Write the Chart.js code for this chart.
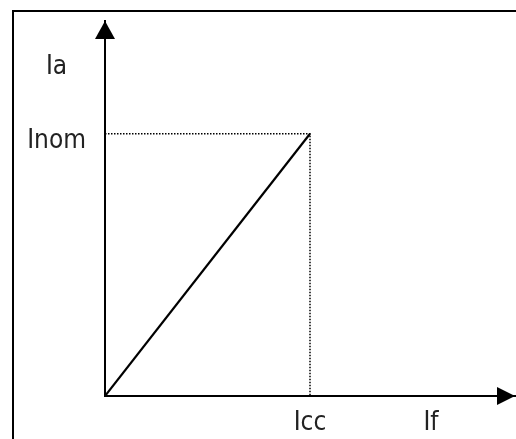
<!DOCTYPE html>
<html>
<head>
<meta charset="utf-8">
<script src="https://cdn.jsdelivr.net/npm/chart.js@4"></script>
<style>
  html, body { margin: 0; padding: 0; background: #fff; }
  #wrap { position: relative; width: 516px; height: 439px; overflow: hidden; }
  #frame { position: absolute; left: 12px; top: 10px; width: 600px; height: 500px;
           border-left: 2px solid #000; border-top: 2px solid #000; box-sizing: border-box; }
  #chart { position: absolute; left: 0; top: 0; }
</style>
</head>
<body>
<div id="wrap">
  <div id="frame"></div>
  <canvas id="chart" width="516" height="439"></canvas>
</div>
<script>
// ── Datos ────────────────────────────────────────────────────────
const xTickValues = [1, 1.59];
const xTickLabels = ["Icc", "If"];
const yTickValues = [1, 1.28];
const yTickLabels = ["Inom", "Ia"];

const lineX  = [0, 1];
const lineY  = [0, 1];
const guideX = [0, 1, 1];
const guideY = [1, 1, 0];

const X_MAX = 2;
const Y_MAX = 1.43;

const FONT = { family: "'Liberation Sans Narrow', 'DejaVu Sans Condensed', sans-serif", size: 26 };

// ── Flechas en los ejes ──────────────────────────────────────────
const arrowPlugin = {
  id: "arrows",
  afterDraw(chart) {
    const { ctx, chartArea: a } = chart;
    ctx.save();
    ctx.fillStyle = "#000";
    // eje Y
    ctx.beginPath();
    ctx.moveTo(a.left, a.top);
    ctx.lineTo(a.left - 10, a.top + 18);
    ctx.lineTo(a.left + 10, a.top + 18);
    ctx.closePath();
    ctx.fill();
    // eje X
    ctx.beginPath();
    ctx.moveTo(a.right, a.bottom);
    ctx.lineTo(a.right - 18, a.bottom - 9);
    ctx.lineTo(a.right - 18, a.bottom + 9);
    ctx.closePath();
    ctx.fill();
    ctx.restore();
  }
};

new Chart(document.getElementById("chart"), {
  type: "scatter",
  data: {
    datasets: [
      {
        data: guideX.map((x, i) => ({ x, y: guideY[i] })),
        showLine: true, borderColor: "#000", borderWidth: 1.5,
        borderDash: [1.5, 1.5], pointRadius: 0, fill: false,
      },
      {
        data: lineX.map((x, i) => ({ x, y: lineY[i] })),
        showLine: true, borderColor: "#000", borderWidth: 2.2,
        pointRadius: 0, fill: false,
      },
    ]
  },
  plugins: [arrowPlugin],
  options: {
    responsive: false,
    animation: false,
    layout: { padding: { top: 21, right: 1, left: 0, bottom: 0 } },
    plugins: { legend: { display: false }, tooltip: { enabled: false } },
    scales: {
      x: {
        type: "linear", min: 0, max: X_MAX,
        afterBuildTicks: s => { s.ticks = xTickValues.map(v => ({ value: v })); },
        afterFit: s => { s.height = 43; s.paddingLeft = 0; s.paddingRight = 0; },
        grid: { display: false, drawTicks: false },
        border: { display: true, color: "#000", width: 2 },
        ticks: {
          autoSkip: false, maxRotation: 0, padding: 12,
          color: "#222", font: FONT,
          callback: (v, i) => xTickLabels[i],
        }
      },
      y: {
        type: "linear", min: 0, max: Y_MAX,
        afterBuildTicks: s => { s.ticks = yTickValues.map(v => ({ value: v })); },
        afterFit: s => { s.width = 105; s.paddingTop = 0; s.paddingBottom = 0; },
        grid: { display: false, drawTicks: false },
        border: { display: true, color: "#000", width: 2 },
        ticks: {
          autoSkip: false, padding: 19, crossAlign: "center", labelOffset: 7,
          color: "#222", font: FONT,
          callback: (v, i) => yTickLabels[i],
        }
      }
    }
  }
});
</script>
</body>
</html>
